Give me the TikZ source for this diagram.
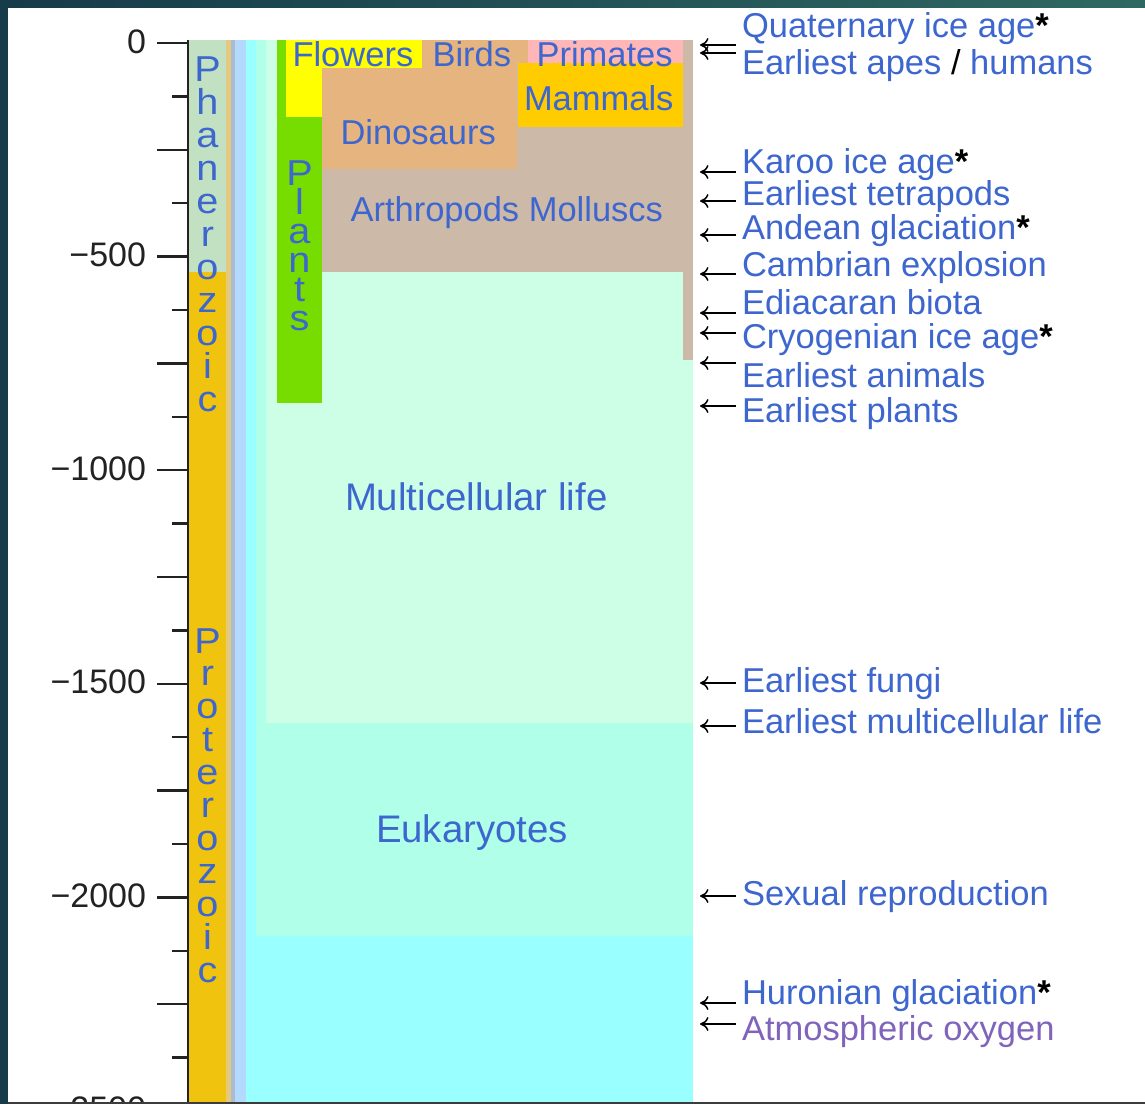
\documentclass[tikz,border=0pt]{standalone}
\usepackage{fontspec}
\setmainfont{Liberation Sans}
\newfontfamily\vletfont[FakeStretch=1.1]{Liberation Sans}
\usetikzlibrary{arrows.meta}
\definecolor{txtblue}{HTML}{3D66CF}
\definecolor{oxypurple}{HTML}{8064BC}
\definecolor{borderL}{HTML}{163B49}
\definecolor{borderR}{HTML}{2F6862}
\definecolor{botline}{HTML}{3C3C3C}
\definecolor{axiscol}{HTML}{222222}
\definecolor{phanero}{HTML}{C2E0C2}
\definecolor{protero}{HTML}{F0C30E}
\definecolor{tanstrip}{HTML}{E4C97E}
\definecolor{graystrip}{HTML}{A9BCD0}
\definecolor{lightblue}{HTML}{B3D9FF}
\definecolor{cyanlife}{HTML}{99FFFF}
\definecolor{aqua}{HTML}{B0FFE8}
\definecolor{mint}{HTML}{CCFFE6}
\definecolor{plantgreen}{HTML}{77DD00}
\definecolor{flowery}{HTML}{FFFF00}
\definecolor{dino}{HTML}{E6B47E}
\definecolor{arthro}{HTML}{CCB9A8}
\definecolor{mammal}{HTML}{FFCC00}
\definecolor{primate}{HTML}{FFB6B6}
\newcommand{\glast}{{\color{black}\bfseries *}}
\begin{document}
\begin{tikzpicture}[x=1pt,y=-1pt,
  every node/.style={inner sep=0pt, outer sep=0pt},
  evlab/.style={anchor=base west, text=txtblue, font=\fontsize{34.5}{40}\selectfont},
  boxlab/.style={anchor=base west, text=txtblue, font=\fontsize{34.5}{40}\selectfont},
  biglab/.style={anchor=base west, text=txtblue, font=\fontsize{38.4}{44}\selectfont},
  vlet/.style={anchor=base, text=txtblue, font=\vletfont\fontsize{36}{40}\selectfont, text height=20pt, text depth=0pt},
  ticklab/.style={anchor=base east, text=axiscol, font=\fontsize{34}{40}\selectfont},
  tickline/.style={draw=axiscol, line width=2.4pt},
  evarrow/.style={draw=black, line width=1.5pt, -{Computer Modern Rightarrow[length=8.5pt,width=14pt]}}
]
\useasboundingbox (0,0) rectangle (1145,1104);
\fill[white] (0,0) rectangle (1145,1104);
% frame of the screenshot
\shade[left color=borderL, right color=borderR] (0,0) rectangle (1145,7.5);
\fill[borderL] (0,0) rectangle (7.5,1104);
\fill[botline] (7.5,1101.8) rectangle (1145,1104);

\begin{scope}
\clip (7.5,7.5) rectangle (1145,1101.8);
% eras
\fill[phanero] (189,40) rectangle (226,272);
\fill[protero] (189,272) rectangle (226,1104);
% thin strips and life columns
\fill[tanstrip] (226,40) rectangle (231,1104);
\fill[graystrip] (231,40) rectangle (235,1104);
\fill[lightblue] (235,40) rectangle (246,1104);
\fill[cyanlife] (246,40) rectangle (693,1104);
\fill[aqua] (256,40) rectangle (693,936);
\fill[mint] (266,40) rectangle (693,723);
\fill[arthro] (683,40) rectangle (693,360);
\fill[arthro] (322,40) rectangle (693,272);
\fill[plantgreen] (277,40) rectangle (322,403);
\fill[flowery] (286,40) rectangle (322,117);
\fill[dino] (322,40) rectangle (517,169);
\fill[dino] (517,40) rectangle (528,63);
\fill[flowery] (286,40) rectangle (422,68);
\fill[mammal] (518,63) rectangle (683,127);
\fill[primate] (528,40) rectangle (683,63);

% axis
\draw[tickline] (188,40) -- (188,1104);
\foreach \k in {0,...,20}{
  \pgfmathsetmacro{\yy}{43+53.394*\k}
  \ifodd\k
    \draw[tickline] (172,\yy) -- (188,\yy);
  \else
    \draw[tickline] (157,\yy) -- (188,\yy);
  \fi
}
\node[ticklab] (t0) at (146,53) {0};
\node[ticklab] (t500) at (146,266.6) {−500};
\node[ticklab] (t1000) at (146,480.2) {−1000};
\node[ticklab] (t1500) at (146,693.7) {−1500};
\node[ticklab] (t2000) at (146,907.3) {−2000};
\node[ticklab] (t2500) at (146,1120.9) {−2500};

% vertical era / plant labels
\foreach \l [count=\i from 0] in {P,h,a,n,e,r,o,z,o,i,c}
  \node[vlet] (ph\i) at (207.5,81.7+33*\i) {\l};
\foreach \l [count=\i from 0] in {P,r,o,t,e,r,o,z,o,i,c}
  \node[vlet] (pr\i) at (207.5,653+32.9*\i) {\l};
\foreach \l [count=\i from 0] in {P,l,a,n,t,s}
  \node[vlet] (pl\i) at (299.5,185+29*\i) {\l};

% box labels
\node[boxlab] (flowers) at (292.5,66.7) {Flowers};
\node[boxlab] (birds) at (432.5,66.7) {Birds};
\node[boxlab] (primates) at (536.5,66.7) {Primates};
\node[boxlab] (mammals) at (524,110) {Mammals};
\node[boxlab] (dinos) at (340.5,144) {Dinosaurs};
\node[boxlab] (arthro) at (350.5,221.7) {Arthropods Molluscs};
\node[biglab] (multi) at (345,510) {Multicellular life};
\node[biglab] (euk) at (376,842) {Eukaryotes};
\end{scope}

% event labels
\node[evlab] (e1) at (742,37.3) {Quaternary ice age\glast};
\node[evlab] (e2) at (742,74) {Earliest apes {\color{black}/} humans};
\node[evlab] (e3) at (742,173) {Karoo ice age\glast};
\node[evlab] (e4) at (742,205) {Earliest tetrapods};
\node[evlab] (e5) at (742,239) {Andean glaciation\glast};
\node[evlab] (e6) at (742,276) {Cambrian explosion};
\node[evlab] (e7) at (742,314) {Ediacaran biota};
\node[evlab] (e8) at (742,348) {Cryogenian ice age\glast};
\node[evlab] (e9) at (742,387) {Earliest animals};
\node[evlab] (e10) at (742,422) {Earliest plants};
\node[evlab] (e11) at (742,692) {Earliest fungi};
\node[evlab] (e12) at (742,733) {Earliest multicellular life};
\node[evlab] (e13) at (742,905) {Sexual reproduction};
\node[evlab] (e14) at (742,1004) {Huronian glaciation\glast};
\node[evlab, text=oxypurple] (e15) at (742,1040) {Atmospheric oxygen};

% event arrows
\foreach \i/\yy in {1/45,2/53,3/172,4/201,5/235,6/274,7/313,8/333,9/363,10/406,11/683,12/726,13/896,14/1003,15/1024}{
  \coordinate (s\i) at (736,\yy);
  \coordinate (p\i) at (700,\yy);
  \draw[evarrow] (s\i) -- (p\i);
}
\end{tikzpicture}
\end{document}
